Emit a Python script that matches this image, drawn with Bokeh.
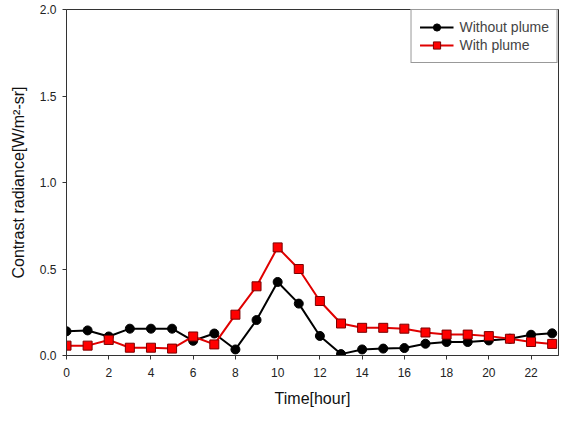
from bokeh.plotting import figure
from bokeh.embed import file_html
from bokeh.resources import INLINE
from bokeh.models import FixedTicker, PrintfTickFormatter, Range1d

hours = list(range(24))
without_plume = [0.14, 0.145, 0.11, 0.155, 0.155, 0.155, 0.085, 0.127, 0.035, 0.205,
                 0.425, 0.30, 0.113, 0.008, 0.035, 0.04, 0.043, 0.068, 0.078, 0.078,
                 0.087, 0.097, 0.12, 0.128]
with_plume = [0.057, 0.057, 0.09, 0.045, 0.045, 0.04, 0.11, 0.064, 0.236, 0.40,
              0.625, 0.50, 0.315, 0.185, 0.16, 0.16, 0.155, 0.133, 0.121, 0.121,
              0.112, 0.097, 0.078, 0.067]
x_ticks = list(range(0, 24, 2))
y_ticks = [0.0, 0.5, 1.0, 1.5, 2.0]

p = figure(output_backend="svg", toolbar_location=None,
           frame_width=492, frame_height=346,
           min_border_left=66, min_border_top=9, min_border_right=1, min_border_bottom=52,
           x_range=Range1d(0, 23.3), y_range=Range1d(0, 2.0))

p.xgrid.visible = False
p.ygrid.visible = False
p.outline_line_color = "#333333"
p.outline_line_width = 1

font = "Liberation Sans"
for ax in (p.xaxis[0], p.yaxis[0]):
    ax.axis_line_color = "#333333"
    ax.major_tick_line_color = "#333333"
    ax.minor_tick_line_color = None
    ax.major_tick_in = 0
    ax.major_tick_out = 4
    ax.major_label_text_font = font
    ax.major_label_text_font_size = "12px"
    ax.major_label_text_color = "#222222"
    ax.axis_label_text_font = font
    ax.axis_label_text_font_size = "16px"
    ax.axis_label_text_font_style = "normal"
    ax.axis_label_text_color = "#111111"

p.xaxis.ticker = FixedTicker(ticks=x_ticks)
p.yaxis.ticker = FixedTicker(ticks=y_ticks)
p.yaxis.formatter = PrintfTickFormatter(format="%.1f")
p.xaxis.axis_label = "Time[hour]"
p.yaxis.axis_label = "Contrast radiance[W/m²-sr]"
p.xaxis.major_label_standoff = 8
p.yaxis.major_label_standoff = 6
p.xaxis.axis_label_standoff = 10
p.yaxis.axis_label_standoff = 10

p.line(hours, without_plume, line_color="black", line_width=2, legend_label="Without plume")
p.scatter(hours, without_plume, marker="circle", size=9, fill_color="black",
          line_color="black", legend_label="Without plume")
p.line(hours, with_plume, line_color="#e00000", line_width=2, legend_label="With plume")
p.scatter(hours, with_plume, marker="square", size=9, fill_color="#ff0000",
          line_color="#7a0000", line_width=1, legend_label="With plume")

lg = p.legend[0]
lg.location = "top_right"
lg.margin = 0
lg.padding = 8
lg.spacing = 0
lg.border_line_color = "#333333"
lg.border_line_width = 1
lg.label_text_font = font
lg.label_text_font_size = "14px"
lg.glyph_width = 34
lg.glyph_height = 18
lg.label_height = 18
lg.label_standoff = 6
lg.background_fill_alpha = 1.0

open("out.html", "w").write(file_html(p, INLINE))
